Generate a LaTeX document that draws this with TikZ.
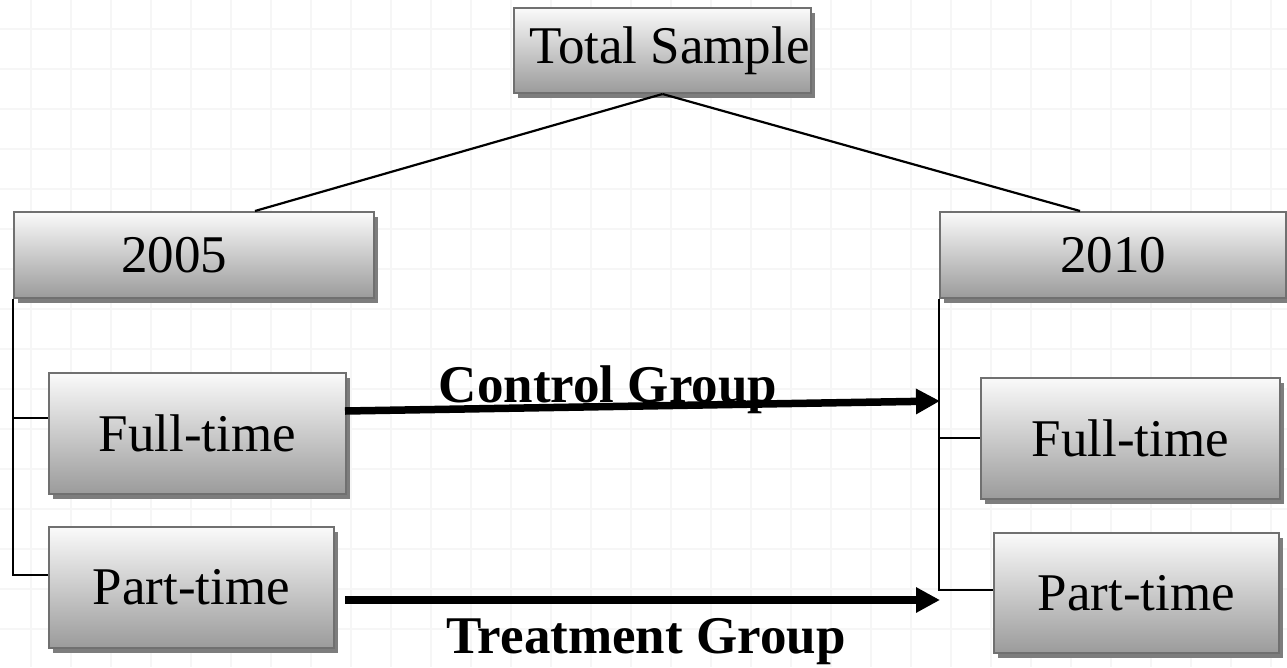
\documentclass[tikz,border=0pt]{standalone}
\usepackage{fontspec}
\setmainfont{Liberation Serif}
\usetikzlibrary{shadows,arrows.meta}
\definecolor{boxborder}{RGB}{112,112,112}
\definecolor{shadowgray}{RGB}{125,125,125}
\definecolor{boxtop}{RGB}{250,250,250}
\definecolor{boxbottom}{RGB}{155,155,155}
\definecolor{gridgray}{RGB}{246,246,246}
\tikzset{
  box/.style={rectangle, draw=boxborder, line width=2pt, top color=boxtop, bottom color=boxbottom,
    drop shadow={shadow xshift=4pt, shadow yshift=-5pt, fill=shadowgray, opacity=1},
    font=\fontsize{53}{60}\selectfont, inner sep=0pt, anchor=north west},
  link/.style={line width=2.2pt, black},
  bigarrow/.style={line width=7.5pt, -{Triangle[length=24pt,width=24pt]}},
  grouplabel/.style={font=\fontsize{53}{60}\selectfont\bfseries, anchor=base, inner sep=0pt}
}
\begin{document}
\begin{tikzpicture}[x=1pt,y=-1pt]
\useasboundingbox (0,0) rectangle (1287,667);
\fill[white] (0,0) rectangle (1287,667);
% faint background grid
\foreach \gx in {31,71,...,1287} \draw[gridgray, line width=1.2pt] (\gx,0) -- (\gx,667);
\foreach \gy in {29,69,...,667} \draw[gridgray, line width=1.2pt] (0,\gy) -- (1287,\gy);

\node[box, minimum width=297pt, minimum height=85pt] (total) at (513,7) {\hspace*{14pt}Total Sample};
\node[box, minimum width=360pt, minimum height=86pt] (y2005) at (13,211) {\raisebox{-4pt}{2005}\hspace*{40pt}};
\node[box, minimum width=346pt, minimum height=86pt] (y2010) at (939,211) {\raisebox{-4pt}{2010}};
\node[box, minimum width=297pt, minimum height=121pt] (ftL) at (48,372) {Full-time};
\node[box, minimum width=285pt, minimum height=121pt] (ptL) at (48,526) {Part-time};
\node[box, minimum width=299pt, minimum height=121pt] (ftR) at (980,377) {Full-time};
\node[box, minimum width=285pt, minimum height=120pt] (ptR) at (993,532) {Part-time};

\coordinate (s1) at (255,211);
\coordinate (s2) at (1080,211);
\draw[link] (total.south) -- (s1);
\draw[link] (total.south) -- (s2);

% left bracket
\coordinate (lf) at (13,418);
\coordinate (lp) at (13,575);
\draw[link] (y2005.south west) -- (lp) -- (ptL.west |- lp);
\draw[link] (lf) -- (ftL.west |- lf);

% right bracket
\coordinate (rf) at (939,438);
\coordinate (rp) at (939,590);
\draw[link] (y2010.south west) -- (rp) -- (ptR.west |- rp);
\draw[link] (rf) -- (ftR.west |- rf);

% group arrows
\coordinate (ca) at (345,411);
\coordinate (cb) at (940,401);
\coordinate (ta) at (345,600);
\coordinate (tb) at (940,600);
\draw[bigarrow] (ca) -- (cb);
\draw[bigarrow] (ta) -- (tb);
\node[grouplabel] (ctl) at (608,402) {Control Group};
\node[grouplabel] (trt) at (646,653) {Treatment Group};
\end{tikzpicture}
\end{document}
